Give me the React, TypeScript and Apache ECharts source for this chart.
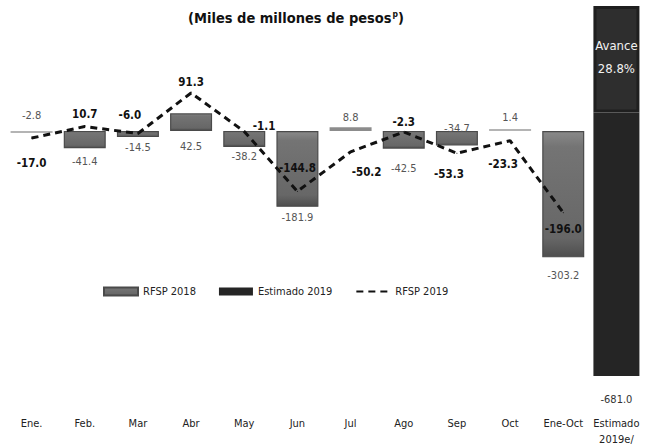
import React, { useEffect, useRef } from "react";
import * as echarts from "echarts";

const categories = ["Ene.", "Feb.", "Mar", "Abr", "May", "Jun", "Jul", "Ago", "Sep", "Oct", "Ene-Oct", "Estimado\n2019e/"];
const rfsp2018 = [-2.8, -41.4, -14.5, 42.5, -38.2, -181.9, 8.8, -42.5, -34.7, 1.4, -303.2, null];
const rfsp2019 = [-17.0, 10.7, -6.0, 91.3, -1.1, -144.8, -50.2, -2.3, -53.3, -23.3, -196.0, null];
const estimado2019 = -681.0;
const avance2019 = -196.0;
const avanceText = "28.8%";

// label placements (style only)
const barLabelPos: [string, number][] = [
  ["top", 10], ["bottom", 8], ["bottom", 5], ["bottom", 10], ["bottom", 4], ["bottom", 5],
  ["top", 4], ["bottom", 14], ["top", -3], ["top", 6], ["bottom", 13], ["bottom", 0],
];
const lineLabelPos: [string, number, number, number][] = [
  ["bottom", 18, 0, 0], ["top", 6, 0, 0], ["top", 12, -8, 0], ["top", 4, 0, 0], ["right", 8, 0, -5],
  ["top", 17, 0, 0], ["bottom", 14, 16, 0], ["top", 3, 0, 0], ["bottom", 14, -8, 0], ["bottom", 17, -7, 0],
  ["bottom", 10, 0, 0], ["bottom", 0, 0, 0],
];

const FONT = "'DejaVu Sans Condensed', 'Liberation Sans', sans-serif";

export default function App() {
  const ref = useRef<HTMLDivElement>(null);
  useEffect(() => {
    if (!ref.current) return;
    const chart = echarts.init(ref.current, null, { renderer: "svg" });
    const n = categories.length;
    const lastIdx = n - 1;

    const barGradient = new echarts.graphic.LinearGradient(0, 0, 0, 1, [
      { offset: 0, color: "#8a8a8a" },
      { offset: 0.12, color: "#747474" },
      { offset: 0.85, color: "#676767" },
      { offset: 1, color: "#4e4e4e" },
    ]);

    const barData = rfsp2018.map((v, i) => {
      const thin = v != null && Math.abs(v) < 10;
      return {
        value: v,
        itemStyle: thin
          ? { color: Math.abs(v as number) > 5 ? "#8c8c8c" : "#b4b4b4", borderWidth: 0 }
          : undefined,
        label: { position: barLabelPos[i][0], distance: barLabelPos[i][1] },
      };
    });
    const lineData = rfsp2019.map((v, i) => ({
      value: v,
      label: {
        position: lineLabelPos[i][0],
        distance: lineLabelPos[i][1],
        offset: [lineLabelPos[i][2], lineLabelPos[i][3]],
      },
    }));
    const avanceData = categories.map((_, i) => (i === lastIdx ? avance2019 : null));
    const restData = categories.map((_, i) => (i === lastIdx ? estimado2019 - avance2019 : null));

    chart.setOption({
      animation: false,
      backgroundColor: "#ffffff",
      textStyle: { fontFamily: FONT },
      title: {
        text: "(Miles de millones de pesos{sup|p})",
        left: 296,
        textAlign: "center",
        top: 9,
        padding: 0,
        textStyle: {
          fontFamily: FONT,
          fontSize: 14.5,
          fontWeight: "bold",
          color: "#111",
          rich: {
            sup: { fontSize: 8.5, fontWeight: "bold", color: "#111", fontFamily: FONT, padding: [0, 0, 8, 1] },
          },
        },
      },
      legend: {
        left: 103,
        top: 286,
        padding: 0,
        itemWidth: 34,
        itemHeight: 8,
        itemGap: 23,
        textStyle: { fontFamily: FONT, fontSize: 11, color: "#222" },
        data: [
          { name: "RFSP 2018", icon: "rect" },
          { name: "Estimado 2019", icon: "rect" },
          { name: "RFSP 2019", itemStyle: { opacity: 0 } },
        ],
      },
      grid: { left: 5, right: 4, top: 6, bottom: 70, containLabel: false },
      xAxis: [
        {
          type: "category",
          data: categories,
          axisLine: { show: false },
          axisTick: { show: false },
          splitLine: { show: false },
          axisLabel: {
            interval: 0,
            margin: 39,
            fontSize: 11,
            lineHeight: 16,
            color: "#222",
            fontFamily: FONT,
            verticalAlign: "top",
          },
        },
        { type: "category", data: categories, show: false },
      ],
      yAxis: [
        { type: "value", min: -588, max: 300, show: false },
        { type: "value", min: -681, max: 0, show: false },
      ],
      series: [
        {
          name: "RFSP 2018",
          type: "bar",
          xAxisIndex: 0,
          yAxisIndex: 0,
          barWidth: 42,
          barMinHeight: 2,
          data: barData,
          itemStyle: {
            color: barGradient,
            borderColor: "#4a4a4a",
            borderWidth: 1.2,
          },
          label: {
            show: true,
            fontSize: 11,
            color: "#555",
            fontFamily: FONT,
            formatter: (p: any) => (p.value == null ? "" : Number(p.value).toFixed(1)),
          },
          z: 2,
        },
        {
          name: "Avance",
          type: "bar",
          xAxisIndex: 1,
          yAxisIndex: 1,
          stack: "est",
          barWidth: 46,
          data: avanceData,
          itemStyle: { color: "#2e2e2e", borderColor: "#1f1f1f", borderWidth: 3 },
          label: {
            show: true,
            position: "insideTop",
            distance: 28,
            color: "#f2f2f2",
            fontSize: 13,
            lineHeight: 23,
            fontFamily: FONT,
            formatter: (p: any) => (p.value == null ? "" : "Avance\n" + avanceText),
          },
          z: 2,
        },
        {
          name: "Estimado 2019",
          type: "bar",
          xAxisIndex: 1,
          yAxisIndex: 1,
          stack: "est",
          barWidth: 46,
          data: restData,
          itemStyle: { color: "#252525" },
          label: {
            show: true,
            position: "bottom",
            distance: 18,
            color: "#333",
            fontSize: 11,
            fontFamily: FONT,
            formatter: (p: any) => (p.value == null ? "" : estimado2019.toFixed(1)),
          },
          z: 2,
        },
        {
          name: "RFSP 2019",
          type: "line",
          xAxisIndex: 0,
          yAxisIndex: 0,
          data: lineData,
          symbol: "circle",
          symbolSize: 1,
          itemStyle: { color: "#111" },
          lineStyle: { color: "#111", width: 3, type: [7, 5] },
          label: {
            show: true,
            fontSize: 11.5,
            fontWeight: "bold",
            color: "#111",
            fontFamily: FONT,
            formatter: (p: any) => (p.value == null ? "" : Number(p.value).toFixed(1)),
          },
          z: 5,
        },
      ],
    });
    return () => chart.dispose();
  }, []);
  return (
    <div
      ref={ref}
      style={{ position: "fixed", left: 0, top: 0, width: 647, height: 447, background: "#fff" }}
    />
  );
}
